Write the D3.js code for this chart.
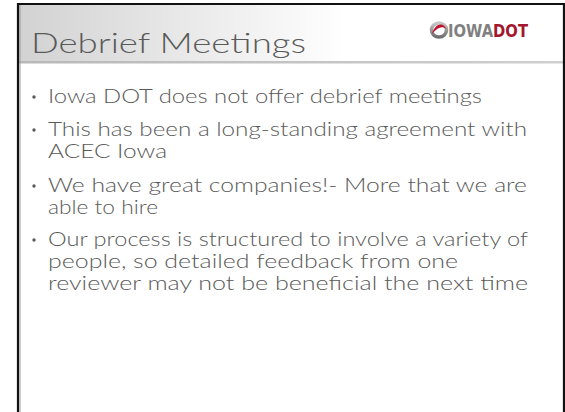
<!DOCTYPE html>
<html>
<head>
<meta charset="utf-8">
<script src="https://cdn.jsdelivr.net/npm/d3@7"></script>
<style>
  html, body { margin: 0; padding: 0; background: #fff; }
  svg { display: block; }
</style>
</head>
<body>
<svg id="slide" width="565" height="412"></svg>
<script>
var titleText = 'Debrief Meetings';
var logoLeft = 'IOWA';
var logoRight = 'DOT';

// each bullet is a list of its wrapped lines
var bullets = [
  ['Iowa DOT does not offer debrief meetings'],
  ['This has been a long-standing agreement with', 'ACEC Iowa'],
  ['We have great companies!- More that we are', 'able to hire'],
  ['Our process is structured to involve a variety of',
   'people, so detailed feedback from one',
   'reviewer may not be beneficial the next time']
];
// measured right edge of each line, in the same order as above
var lineEnds = [
  [482],
  [527, 167],
  [527, 158],
  [528, 458, 528]
];

var svg = d3.select('#slide');
var textColor = '#5a5a5a';
var font = 'Lato, "Open Sans", sans-serif';

var defs = svg.append('defs');
var headGrad = defs.append('linearGradient').attr('id', 'headGrad');
headGrad.append('stop').attr('offset', '0%').attr('stop-color', '#d2d2d2');
headGrad.append('stop').attr('offset', '60%').attr('stop-color', '#ffffff');

var ruleGrad = defs.append('linearGradient').attr('id', 'ruleGrad');
ruleGrad.append('stop').attr('offset', '0%').attr('stop-color', '#b8b8b8');
ruleGrad.append('stop').attr('offset', '100%').attr('stop-color', '#cfcfcf');

var ringGrad = defs.append('linearGradient').attr('id', 'ringGrad')
  .attr('x1', 0).attr('y1', 0).attr('x2', 0).attr('y2', 1);
ringGrad.append('stop').attr('offset', '0%').attr('stop-color', '#c8c8c8');
ringGrad.append('stop').attr('offset', '100%').attr('stop-color', '#6e6e6e');

// header band
svg.append('rect')
  .attr('x', 19).attr('y', 5).attr('width', 545).attr('height', 57)
  .attr('fill', 'url(#headGrad)');
svg.append('rect')
  .attr('x', 19).attr('y', 61).attr('width', 545).attr('height', 2.5)
  .attr('fill', 'url(#ruleGrad)');

// slide frame
svg.append('path')
  .attr('d', 'M18,420 V4 H564 V420')
  .attr('fill', 'none')
  .attr('stroke', '#111')
  .attr('stroke-width', 2.2);
svg.append('line')
  .attr('x1', 20).attr('x2', 20).attr('y1', 5).attr('y2', 412)
  .attr('stroke', '#9a9a9a').attr('stroke-width', 1);

// title
svg.append('text')
  .attr('x', 31).attr('y', 53)
  .attr('font-family', font)
  .attr('font-weight', 300)
  .attr('font-size', 28)
  .attr('fill', textColor)
  .attr('textLength', 275)
  .attr('lengthAdjust', 'spacingAndGlyphs')
  .text(titleText);

// logo: swoosh ring + one wordmark in two colours
var logo = svg.append('g').attr('transform', 'translate(439,30)');
logo.append('ellipse')
  .attr('rx', 7.5).attr('ry', 7)
  .attr('fill', 'none')
  .attr('stroke', 'url(#ringGrad)')
  .attr('stroke-width', 3.6);
logo.append('path')
  .attr('d', 'M-7,4 C-4,-7 5,-8 7,-1 C3,-5 -2,-2 -7,4 Z')
  .attr('fill', '#c0102a');
var word = svg.append('text')
  .attr('x', 448).attr('y', 36.5)
  .attr('font-family', '"DejaVu Sans", sans-serif')
  .attr('font-weight', 'bold')
  .attr('font-size', 17.5)
  .attr('textLength', 80)
  .attr('lengthAdjust', 'spacingAndGlyphs');
word.append('tspan').attr('fill', '#808080').text(logoLeft);
word.append('tspan').attr('fill', '#a3162e').text(logoRight);

// bullets
var textX = 48;
var y = d3.scaleLinear().domain([0, 1]).range([0, 22]);
var starts = [103, 136, 192, 246];

var groups = svg.selectAll('g.bullet')
  .data(bullets)
  .join('g')
  .attr('class', 'bullet')
  .attr('transform', function(d, i) { return 'translate(0,' + starts[i] + ')'; });

groups.append('circle')
  .attr('cx', 34).attr('cy', -6)
  .attr('r', 1.7)
  .attr('fill', textColor);

groups.each(function(lines, bi) {
  d3.select(this).selectAll('text.line')
    .data(lines)
    .join('text')
    .attr('class', 'line')
    .attr('x', textX)
    .attr('y', function(d, li) { return y(li); })
    .attr('font-family', font)
    .attr('font-weight', 300)
    .attr('font-size', 19.5)
    .attr('fill', textColor)
    .attr('textLength', function(d, li) { return lineEnds[bi][li] - textX; })
    .attr('lengthAdjust', 'spacingAndGlyphs')
    .text(function(d) { return d; });
});
</script>
</body>
</html>
